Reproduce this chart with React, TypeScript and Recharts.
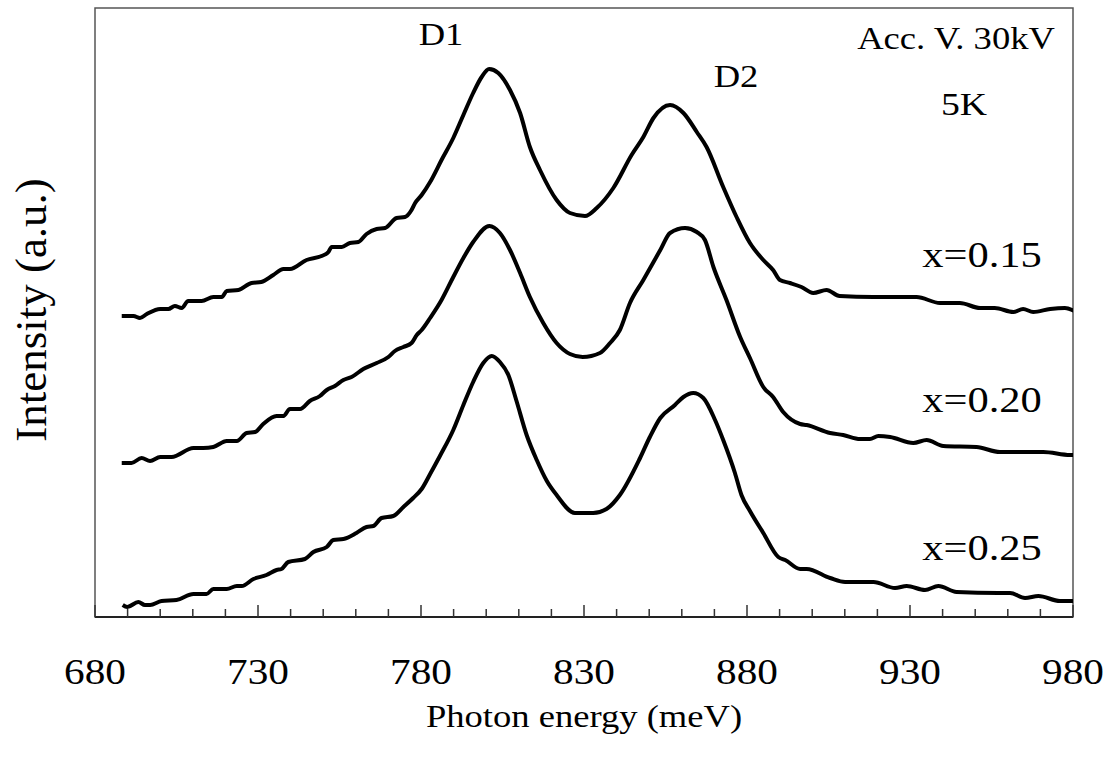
import { LineChart, Line, XAxis, YAxis, ReferenceArea } from 'recharts';

// photon energy (meV), intensity (a.u.)
const spectrum015: [number, number][] = [
  [688.2, 30.1], [691.8, 30.1], [693.8, 29.9], [695.9, 30.3], [700.0, 30.8], [702.5, 30.8],
  [704.5, 31.1], [706.6, 30.9], [708.6, 31.6], [712.7, 31.6], [716.3, 32.0], [718.9, 32.0],
  [720.4, 32.6], [724.0, 32.7], [728.0, 33.4], [731.0, 33.5], [734.7, 34.2], [737.8, 34.8],
  [739.8, 34.8], [744.9, 35.7], [749.5, 36.1], [751.6, 36.5], [752.6, 37.0], [755.7, 37.0],
  [758.2, 37.4], [760.8, 37.5], [763.3, 38.3], [766.4, 38.8], [769.0, 38.9], [772.5, 39.9],
  [775.1, 40.0], [777.1, 40.7], [778.2, 41.4], [780.2, 42.2], [782.8, 43.5], [786.3, 45.7],
  [789.9, 47.9], [793.0, 50.2], [796.0, 52.4], [798.6, 54.0], [800.9, 54.8], [803.7, 54.4],
  [807.3, 52.7], [810.4, 50.4], [813.4, 47.0], [816.5, 44.7], [821.6, 41.7], [825.7, 40.4],
  [830.3, 40.1], [833.9, 40.9], [839.0, 42.9], [844.6, 46.2], [848.2, 48.0], [851.3, 49.9],
  [856.4, 51.2], [860.5, 50.4], [864.6, 48.5], [867.6, 47.0], [872.7, 43.0], [876.8, 40.0],
  [880.9, 37.4], [885.0, 35.7], [888.0, 34.7], [890.1, 33.7], [893.2, 33.4], [896.7, 33.0],
  [900.3, 32.4], [904.4, 32.7], [908.4, 32.1], [918.7, 32.0], [932.0, 32.0], [939.2, 31.4],
  [945.3, 31.4], [951.5, 30.9], [956.0, 30.9], [961.7, 30.5], [964.7, 30.8], [967.8, 30.5],
  [973.0, 30.8], [977.5, 30.9], [982.0, 30.3],
];

const spectrum020: [number, number][] = [
  [688.2, 15.4], [691.2, 15.4], [694.3, 15.9], [696.9, 15.6], [700.0, 16.0], [703.5, 16.0],
  [710.2, 16.9], [713.2, 16.9], [716.3, 17.0], [720.4, 17.6], [723.5, 17.6], [726.5, 18.4],
  [729.1, 18.5], [731.6, 19.3], [735.7, 20.1], [737.8, 20.1], [739.8, 20.8], [742.9, 20.8],
  [745.9, 21.6], [749.0, 22.1], [751.1, 22.7], [753.6, 23.1], [756.2, 23.7], [758.7, 24.0],
  [762.3, 24.8], [766.4, 25.4], [770.0, 26.0], [772.0, 26.6], [774.6, 27.0], [777.1, 27.4],
  [778.7, 28.2], [780.2, 28.7], [782.8, 29.9], [786.3, 31.7], [789.9, 34.0], [793.0, 35.9],
  [796.0, 37.5], [801.0, 39.1], [804.2, 38.4], [807.3, 36.7], [810.4, 34.4], [813.4, 32.0],
  [817.5, 29.4], [821.6, 27.4], [825.7, 26.3], [829.6, 26.0], [834.9, 26.4], [838.0, 27.4],
  [841.0, 28.7], [844.1, 31.4], [848.2, 33.7], [853.4, 36.7], [856.4, 38.4], [861.0, 38.9],
  [864.6, 38.5], [867.1, 37.7], [869.7, 35.0], [873.7, 31.7], [877.9, 28.0], [880.9, 25.9],
  [885.0, 23.0], [888.0, 22.0], [891.1, 20.5], [896.3, 19.3], [898.3, 19.2], [905.5, 18.4],
  [909.5, 18.2], [914.7, 17.8], [917.7, 17.8], [920.3, 18.1], [923.9, 18.0], [931.0, 17.4],
  [935.1, 17.7], [940.2, 17.1], [950.4, 17.0], [957.6, 16.5], [970.9, 16.5], [979.1, 16.2],
  [982.0, 16.2],
];

const spectrum025: [number, number][] = [
  [688.5, 1.2], [689.9, 1.0], [693.3, 1.5], [695.3, 1.2], [696.9, 1.2], [700.4, 1.6],
  [705.0, 1.7], [710.2, 2.3], [714.2, 2.3], [716.3, 2.8], [720.4, 2.8], [723.5, 3.1],
  [725.0, 3.1], [728.6, 3.8], [732.6, 4.2], [735.7, 4.7], [737.2, 4.8], [739.3, 5.5],
  [744.4, 5.8], [747.0, 6.5], [751.1, 7.0], [753.1, 7.7], [756.2, 7.8], [760.2, 8.4],
  [763.3, 9.0], [765.4, 9.1], [767.9, 9.9], [771.5, 10.1], [774.6, 11.0], [777.6, 11.9],
  [780.2, 12.8], [782.8, 14.3], [785.8, 16.1], [789.9, 18.7], [793.0, 21.2], [796.0, 23.5],
  [799.1, 25.4], [801.7, 26.1], [804.2, 25.5], [806.8, 24.2], [809.3, 21.6], [812.4, 18.2],
  [815.5, 15.7], [818.6, 13.6], [821.6, 12.2], [827.2, 10.4], [832.8, 10.4], [836.9, 10.8],
  [841.0, 12.2], [847.2, 15.9], [850.2, 18.0], [853.4, 19.9], [857.9, 21.2], [860.5, 22.0],
  [863.5, 22.4], [866.6, 21.9], [870.2, 19.7], [872.7, 17.7], [876.3, 14.4], [878.3, 12.2],
  [880.9, 10.6], [885.0, 8.4], [889.6, 6.0], [891.7, 5.7], [896.3, 4.8], [898.3, 4.8],
  [905.5, 3.9], [910.1, 3.5], [918.8, 3.5], [925.4, 2.9], [929.0, 3.1], [934.6, 2.7],
  [938.7, 3.1], [944.3, 2.5], [957.1, 2.4], [960.7, 2.4], [965.3, 1.9], [969.4, 2.1],
  [976.0, 1.6], [982.0, 1.6],
];

const energyTicks = [
  680, 690, 700, 710, 720, 730, 740, 750, 760, 770, 780, 790, 800, 810, 820, 830,
  840, 850, 860, 870, 880, 890, 900, 910, 920, 930, 940, 950, 960, 970, 980,
];
const labelledTicks = [680, 730, 780, 830, 880, 930, 980];

const toRows = (pts: [number, number][]) => pts.map(([e, i]) => ({ e, i }));

const FONT = '"Liberation Serif", "Times New Roman", serif';
// the original figure is a little wider than tall, so the lettering is stretched sideways
const SX = 1.18;

function Wide({ x, y, size, children }: { x: number; y: number; size: number; children: string }) {
  return (
    <text
      transform={`translate(${x} ${y}) scale(${SX} 1)`}
      textAnchor="middle"
      fontFamily={FONT}
      fontSize={size}
      fill="#000"
    >
      {children}
    </text>
  );
}

function EnergyTick(props: any) {
  const { x, y, payload } = props;
  const v = payload.value as number;
  const labelled = labelledTicks.includes(v);
  return (
    <g>
      <line x1={x} y1={y} x2={x} y2={y - (labelled ? 12 : 8)} stroke="#333" strokeWidth={1.5} />
      {labelled && <Wide x={x} y={y + 67} size={35}>{String(v)}</Wide>}
    </g>
  );
}

export default function App() {
  return (
    <div style={{ position: 'absolute', left: 0, top: 0, width: 1104, height: 760, background: '#fff' }}>
      <LineChart width={1104} height={760} margin={{ top: 8, right: 31, bottom: 0, left: 95 }}>
        <XAxis
          type="number"
          dataKey="e"
          domain={[680, 980]}
          allowDataOverflow
          ticks={energyTicks}
          interval={0}
          tick={<EnergyTick />}
          tickLine={false}
          tickSize={0}
          tickMargin={0}
          height={143}
          axisLine={{ stroke: '#222', strokeWidth: 2 }}
        />
        <YAxis hide type="number" domain={[0, 60.9]} allowDataOverflow />
        <ReferenceArea x1={680} x2={980} y1={0} y2={60.9} fill="none" stroke="#555" strokeWidth={1.5} />
        <Line data={toRows(spectrum015)} dataKey="i" type="monotone" stroke="#000" strokeWidth={4} dot={false} isAnimationActive={false} />
        <Line data={toRows(spectrum020)} dataKey="i" type="monotone" stroke="#000" strokeWidth={4} dot={false} isAnimationActive={false} />
        <Line data={toRows(spectrum025)} dataKey="i" type="monotone" stroke="#000" strokeWidth={4} dot={false} isAnimationActive={false} />
      </LineChart>
      <svg width={1104} height={760} style={{ position: 'absolute', left: 0, top: 0, pointerEvents: 'none' }}>
        <Wide x={441} y={45} size={31}>D1</Wide>
        <Wide x={736} y={87} size={31}>D2</Wide>
        <Wide x={956} y={49} size={31}>Acc. V. 30kV</Wide>
        <Wide x={964} y={115} size={32}>5K</Wide>
        <Wide x={982} y={267} size={36}>x=0.15</Wide>
        <Wide x={982} y={412} size={36}>x=0.20</Wide>
        <Wide x={982} y={560} size={36}>x=0.25</Wide>
        <Wide x={584} y={727} size={31}>Photon energy (meV)</Wide>
        <text
          transform="translate(46 310) rotate(-90)"
          textAnchor="middle"
          fontFamily={FONT}
          fontSize={45}
          fill="#000"
        >
          Intensity (a.u.)
        </text>
      </svg>
    </div>
  );
}
